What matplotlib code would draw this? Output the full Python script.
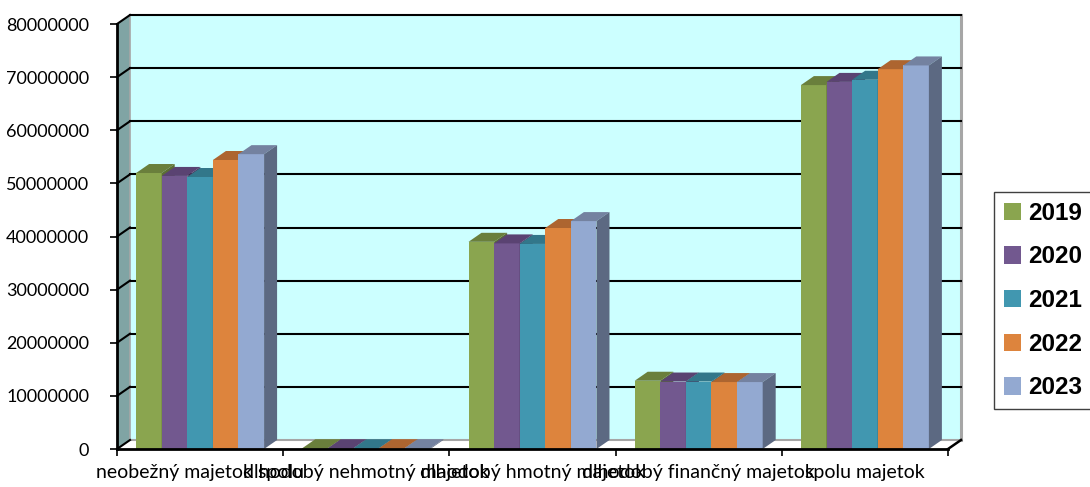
import matplotlib.pyplot as plt
from matplotlib.patches import Polygon, Patch
import numpy as np

categories = ["neobežný majetok spolu", "dlhodobý nehmotný majetok",
              "dlhodobý hmotný majetok", "dlhodobý finančný majetok", "spolu majetok"]
years = ["2019", "2020", "2021", "2022", "2023"]
v2019 = [51950000, 150000, 39000000, 12850000, 68500000]
v2020 = [51400000, 150000, 38700000, 12700000, 69100000]
v2021 = [51200000, 150000, 38600000, 12700000, 69500000]
v2022 = [54400000, 150000, 41600000, 12600000, 71500000]
v2023 = [55500000, 150000, 42900000, 12600000, 72200000]
series = [v2019, v2020, v2021, v2022, v2023]
yticks = np.arange(0, 80000001, 10000000)

front_c = ['#8aa54f', '#72588f', '#4197b0', '#dd843d', '#93a9d1']
top_c = ['#6a7f3c', '#5a4372', '#32778a', '#ad6530', '#7482a0']
side_c = ['#5c6e33', '#4c3961', '#2b6575', '#935628', '#5c6982']

fig = plt.figure(figsize=(10.9, 4.87), dpi=100)
ax = fig.add_axes([117/1090, 38/487, (948-117)/1090, (449-24)/487])
ax.set_xlim(-0.5, 4.5)
ax.set_ylim(0, 80000000)
ax.patch.set_visible(False)

# depth of the fake 3d box, in data units
DX = 13/166.2
DY = 9*80000000/425
ymax = 80000000

# back wall, left wall, floor
ax.add_patch(Polygon([(-0.5+DX, DY), (4.5+DX, DY), (4.5+DX, ymax+DY), (-0.5+DX, ymax+DY)],
                     closed=True, fc='#ccffff', ec='none', zorder=0, clip_on=False))
ax.add_patch(Polygon([(-0.5, 0), (-0.5+DX, DY), (-0.5+DX, ymax+DY), (-0.5, ymax)],
                     closed=True, fc='#80a4a4', ec='none', zorder=0, clip_on=False))
ax.add_patch(Polygon([(-0.5, 0), (4.5, 0), (4.5+DX, DY), (-0.5+DX, DY)],
                     closed=True, fc='white', ec='none', zorder=0, clip_on=False))
# wall edges
ax.plot([4.5+DX, 4.5+DX], [DY, ymax+DY], color='#a6a6a6', lw=2.2, zorder=1, clip_on=False)
ax.plot([-0.5+DX, -0.5+DX], [DY, ymax+DY], color='#a6a6a6', lw=1.2, zorder=1, clip_on=False)
ax.plot([-0.5+DX, 4.5+DX], [DY, DY], color='#a6a6a6', lw=1.5, zorder=1, clip_on=False)

# gridlines on back wall + diagonals on left wall
for t in yticks:
    if t > 0:
        ax.plot([-0.5+DX, 4.5+DX], [t+DY, t+DY], color='black', lw=1.5, zorder=1, clip_on=False)
    ax.plot([-0.5, -0.5+DX], [t, t+DY], color='black', lw=1.5, zorder=1, clip_on=False)
ax.plot([4.5, 4.5+DX], [0, DY], color='black', lw=1.8, zorder=1, clip_on=False)

# bars
group = 0.77
w = group/len(series)
x = np.arange(len(categories))
for ci in range(len(categories)):
    for si, vals in enumerate(series):
        z = 3 + si*0.1
        x0 = x[ci] - group/2 + si*w
        v = vals[ci]
        ax.bar(x0, v, width=w, align='edge', color=front_c[si], zorder=z)
        ax.add_patch(Polygon([(x0, v), (x0+w, v), (x0+w+DX, v+DY), (x0+DX, v+DY)],
                             closed=True, fc=top_c[si], ec='none', zorder=z, clip_on=False))
        ax.add_patch(Polygon([(x0+w, 0), (x0+w+DX, DY), (x0+w+DX, v+DY), (x0+w, v)],
                             closed=True, fc=side_c[si], ec='none', zorder=z, clip_on=False))

# axes
for s in ['top', 'right']:
    ax.spines[s].set_visible(False)
for s in ['left', 'bottom']:
    ax.spines[s].set_linewidth(2)
    ax.spines[s].set_zorder(10)
ax.set_yticks(yticks)
ax.set_yticklabels([str(t) for t in yticks])
ax.tick_params(axis='y', length=5, width=1.2, pad=15, labelsize=13)
ax.set_xticks(np.arange(-0.5, 4.6, 1))
ax.set_xticklabels([])
ax.set_xticks(x, minor=True)
ax.set_xticklabels(categories, minor=True)
ax.tick_params(axis='x', which='major', length=5, width=1.2)
ax.tick_params(axis='x', which='minor', length=0, pad=11, labelsize=14)
for lab in ax.get_yticklabels() + ax.get_xticklabels(minor=True):
    lab.set_family(['Lato', 'DejaVu Sans'])

handles = [Patch(facecolor=c, edgecolor='none') for c in front_c]
leg = fig.legend(handles, years, loc='upper left', bbox_to_anchor=(994/1090, 1-192/487),
                 borderaxespad=0, frameon=True, fancybox=False, framealpha=1,
                 edgecolor='#404040', borderpad=0.4, labelspacing=0.85,
                 handlelength=0.72, handleheight=0.72, handletextpad=0.3,
                 prop={'family': ['Liberation Sans', 'DejaVu Sans'], 'weight': 'bold', 'size': 17.5})
leg.get_frame().set_linewidth(1.0)

fig.savefig('out.png', dpi=100)
